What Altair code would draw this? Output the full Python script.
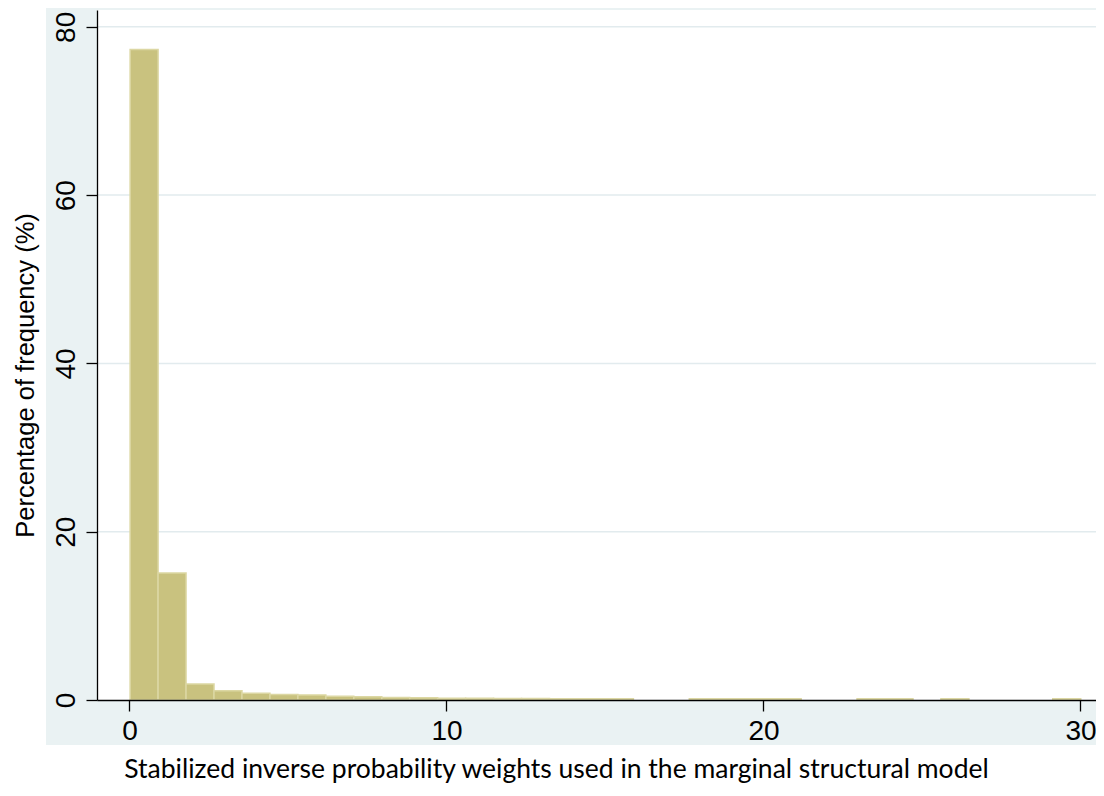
import altair as alt
import pandas as pd

# Histogram bins (Stata-style): origin and width of the bins
bin_origin = 0.02
bin_width = 0.882
percent = [77.3, 15.1, 1.9, 1.1, 0.8, 0.65, 0.6, 0.45, 0.4, 0.3, 0.28, 0.22,
           0.2, 0.18, 0.18, 0.15, 0.15, 0.15, 0, 0, 0.15, 0.15, 0.15, 0.15,
           0, 0, 0.15, 0.15, 0, 0.15, 0, 0, 0, 0.15]
x_ticks = [0, 10, 20, 30]
y_ticks = [0, 20, 40, 60, 80]
grid_values = [20, 40, 60, 80]

rows = []
for i, p in enumerate(percent):
    if p > 0:
        rows.append({"start": bin_origin + i * bin_width,
                     "end": bin_origin + (i + 1) * bin_width,
                     "pct": p})
bars_df = pd.DataFrame(rows)
grid_df = pd.DataFrame({"pct": grid_values})

W, H = 999, 690
x_scale = alt.Scale(domain=[-1.025, 30.49], nice=False, zero=False)
y_scale = alt.Scale(domain=[0, 82.0], nice=False)

x_axis = alt.Axis(values=x_ticks, grid=False, format="d",
                  domainColor="black", domainWidth=1.3,
                  tickColor="black", tickSize=11, tickWidth=1.3,
                  labelFont="Liberation Sans", labelFontSize=28, labelColor="black",
                  labelPadding=6, labelFlush=False, labelOverlap=False,
                  title="Stabilized inverse probability weights used in the marginal structural model",
                  titleFont="Lato", titleFontSize=26.5, titleFontWeight="normal",
                  titleColor="black", titleX=459, titleY=77,
                  titleAlign="center", titleBaseline="alphabetic", zindex=1)

y_axis = alt.Axis(values=y_ticks, grid=False, format="d",
                  domainColor="black", domainWidth=1.3,
                  tickColor="black", tickSize=11, tickWidth=1.3,
                  labelFont="Liberation Sans", labelFontSize=28, labelColor="black",
                  labelAngle=270, labelAlign="center", labelBaseline="alphabetic",
                  labelPadding=12, labelFlush=False, labelOverlap=False,
                  title="Percentage of frequency (%)",
                  titleFont="Liberation Sans", titleFontSize=25.5, titleFontWeight="normal",
                  titleColor="black", titleAngle=270, titleX=-72, titleY=365,
                  titleAlign="center", titleBaseline="middle", zindex=1)

dummy = pd.DataFrame({"a": [0]})

band = alt.Chart(dummy).mark_rect(color="#eaf2f3").encode(
    x=alt.value(-51), x2=alt.value(W + 4), y=alt.value(-2), y2=alt.value(H + 45))

plot_bg = alt.Chart(dummy).mark_rect(color="white").encode(
    x=alt.value(0), x2=alt.value(W), y=alt.value(0), y2=alt.value(H))

grid = alt.Chart(grid_df).mark_rule(color="#e2ebee", strokeWidth=1.5).encode(
    y=alt.Y("pct:Q", scale=y_scale, axis=y_axis))

bars = alt.Chart(bars_df).mark_rect(fill="#c9c27f", stroke="#dcd7a3", strokeWidth=1.5).encode(
    x=alt.X("start:Q", scale=x_scale, axis=x_axis),
    x2="end:Q",
    y=alt.Y("pct:Q", scale=y_scale, axis=y_axis),
    y2=alt.datum(0))

chart = alt.layer(band, plot_bg, grid, bars).properties(
    width=W, height=H,
    padding={"left": 89, "top": 2, "right": 0, "bottom": 83},
    autosize=alt.AutoSizeParams(type="none"),
    background="white",
).configure_view(stroke=None)

chart.save("out.html", embed_options={"renderer": "svg", "actions": False})
